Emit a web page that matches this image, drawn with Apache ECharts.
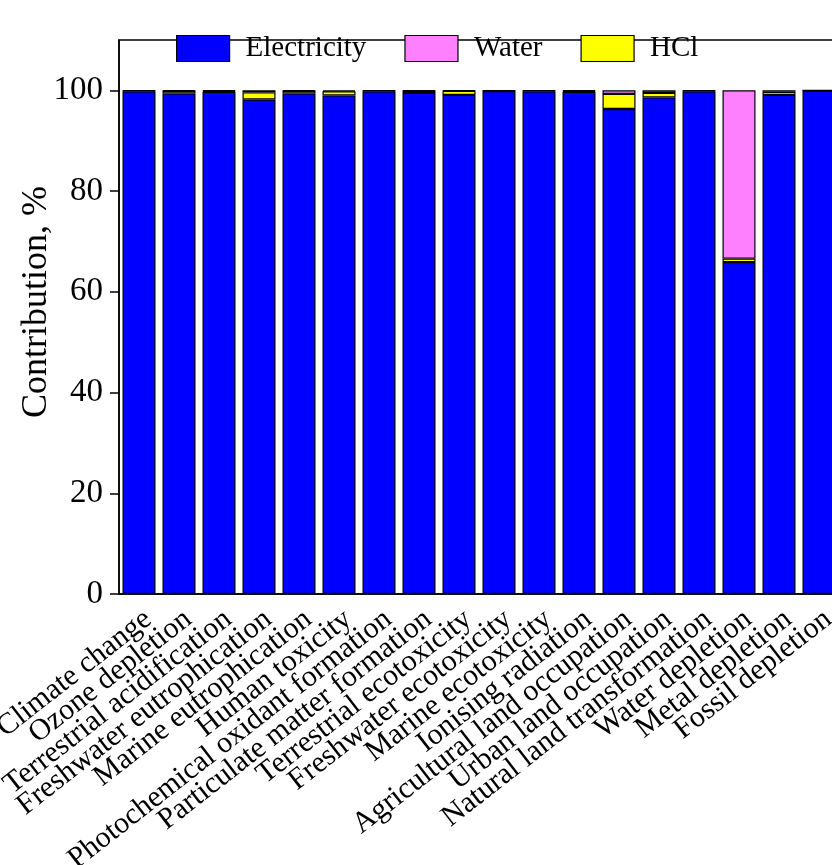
<!DOCTYPE html>
<html>
<head>
<meta charset="utf-8">
<script src="https://cdn.jsdelivr.net/npm/echarts@6/dist/echarts.min.js"></script>
<style>html,body{margin:0;padding:0;background:#fff;}#c{width:832px;height:865px;}</style>
</head>
<body>
<div id="c"></div>
<script>
const categories = ["Climate change","Ozone depletion","Terrestrial acidification","Freshwater eutrophication","Marine eutrophication","Human toxicity","Photochemical oxidant formation","Particulate matter formation","Terrestrial ecotoxicity","Freshwater ecotoxicity","Marine ecotoxicity","Ionising radiation","Agricultural land occupation","Urban land occupation","Natural land transformation","Water depletion","Metal depletion","Fossil depletion"];
const electricity = [99.8, 99.4, 99.7, 98.2, 99.4, 99.0, 99.8, 99.5, 99.1, 99.85, 99.8, 99.7, 96.3, 98.6, 99.8, 65.9, 99.1, 99.9];
const water =       [0.05, 0.1, 0.1, 0.4, 0.1, 0.2, 0.05, 0.1, 0.1, 0.05, 0.05, 0.1, 0.7, 0.5, 0.05, 33.4, 0.3, 0.02];
const hcl =         [0.15, 0.5, 0.2, 1.4, 0.5, 0.8, 0.15, 0.4, 0.8, 0.1, 0.15, 0.2, 3.0, 0.9, 0.15, 0.7, 0.6, 0.08];
const yTicks = [0, 20, 40, 60, 80, 100];

const font = '"Liberation Serif", "Times New Roman", serif';
const chart = echarts.init(document.getElementById('c'), null, {renderer: 'canvas'});
function barSeries(name, data, color) {
  return {
    name: name, type: 'bar', stack: 'total', data: data, barWidth: 33,
    itemStyle: {color: color, borderColor: '#000', borderWidth: 1.2}
  };
}
chart.setOption({
  animation: false,
  backgroundColor: '#fff',
  grid: {left: 119, top: 40, width: 720, bottom: 271, containLabel: false, outerBoundsMode: 'none',
    show: true, borderColor: '#000', borderWidth: 1.5, backgroundColor: 'transparent'},
  legend: {
    left: 171, top: 29, itemWidth: 53, itemHeight: 26, itemGap: 38,
    icon: 'rect',
    textStyle: {fontFamily: font, fontSize: 29, color: '#000', padding: [0, 0, 0, 11]},
    data: [
      {name: 'Electricity', itemStyle: {borderColor: '#000', borderWidth: 1.2}},
      {name: 'Water', itemStyle: {borderColor: '#000', borderWidth: 1.2}},
      {name: 'HCl', itemStyle: {borderColor: '#000', borderWidth: 1.2}}
    ]
  },
  xAxis: {
    type: 'category', data: categories,
    axisLine: {lineStyle: {color: '#000', width: 1.5}},
    axisTick: {alignWithLabel: true, length: 9, lineStyle: {color: '#000', width: 1.5}},
    axisLabel: {rotate: 38, interval: 0, fontFamily: font, fontSize: 30, color: '#000', margin: 10,
      align: 'right', verticalAlign: 'top'}
  },
  yAxis: {
    type: 'value', min: 0, max: 110, interval: 20,
    name: 'Contribution, %', nameLocation: 'middle', nameGap: 64, nameMoveOverlap: false,
    nameTextStyle: {fontFamily: font, fontSize: 36, color: '#000', padding: [0, 0, 0, 30]},
    axisLine: {show: true, lineStyle: {color: '#000', width: 1.5}},
    axisTick: {show: true, length: 9, lineStyle: {color: '#000', width: 1.5}},
    axisLabel: {fontFamily: font, fontSize: 33, color: '#000', margin: 16, showMaxLabel: false,
      formatter: function (v) { return yTicks.indexOf(v) >= 0 ? String(v) : ''; }},
    splitLine: {show: false}
  },
  series: [
    barSeries('Electricity', electricity, '#0000FF'),
    barSeries('HCl', hcl, '#FFFF00'),
    barSeries('Water', water, '#FF80FF')
  ]
});
</script>
</body>
</html>
